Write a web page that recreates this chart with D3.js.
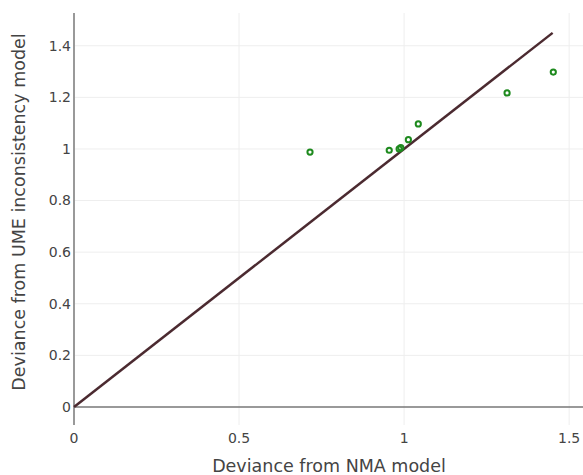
<!DOCTYPE html>
<html>
<head>
<meta charset="utf-8">
<script src="https://cdn.jsdelivr.net/npm/d3@7"></script>
<style>
  body { margin: 0; background: #fff; }
  svg { display: block; }
</style>
</head>
<body>
<script>
// deviance of each study: NMA model vs UME inconsistency model
var nmaDeviance = [0.715, 0.955, 0.985, 0.99, 1.013, 1.043, 1.312, 1.452];
var umeDeviance = [0.988, 0.995, 1.0, 1.005, 1.036, 1.097, 1.217, 1.298];
var lineOfEquality = [0, 1.45];
var xTicks = [0, 0.5, 1, 1.5];
var yTicks = [0, 0.2, 0.4, 0.6, 0.8, 1, 1.2, 1.4];

var width = 583, height = 475;
var margin = { left: 74, right: 0, top: 13, bottom: 50 };

var svg = d3.select('body').append('svg')
    .attr('width', width)
    .attr('height', height);

var x = d3.scaleLinear()
    .domain([0, 1.542])
    .range([margin.left, width - margin.right]);
var y = d3.scaleLinear()
    .domain([-0.07, 1.527])
    .range([height - margin.bottom, margin.top]);

var font = 'Verdana, "DejaVu Sans", sans-serif';

// grid
svg.append('g').selectAll('line')
    .data(xTicks.filter(function(d) { return d !== 0; }))
    .enter().append('line')
      .attr('x1', function(d) { return x(d); })
      .attr('x2', function(d) { return x(d); })
      .attr('y1', y.range()[1])
      .attr('y2', y.range()[0])
      .attr('stroke', '#eeeeee')
      .attr('stroke-width', 1);
svg.append('g').selectAll('line')
    .data(yTicks.filter(function(d) { return d !== 0; }))
    .enter().append('line')
      .attr('x1', x.range()[0])
      .attr('x2', x.range()[1])
      .attr('y1', function(d) { return y(d); })
      .attr('y2', function(d) { return y(d); })
      .attr('stroke', '#eeeeee')
      .attr('stroke-width', 1);

// zero lines
svg.append('line')
    .attr('x1', x.range()[0]).attr('x2', x.range()[1])
    .attr('y1', y(0)).attr('y2', y(0))
    .attr('stroke', '#777777').attr('stroke-width', 1.5);
svg.append('line')
    .attr('x1', x(0)).attr('x2', x(0))
    .attr('y1', y.range()[1]).attr('y2', y.range()[0])
    .attr('stroke', '#999999').attr('stroke-width', 2);

// tick labels
svg.append('g').selectAll('text')
    .data(xTicks)
    .enter().append('text')
      .attr('x', function(d) { return x(d); })
      .attr('y', y.range()[0] + 18)
      .attr('text-anchor', 'middle')
      .attr('font-family', font)
      .attr('font-size', 14)
      .attr('fill', '#444')
      .text(function(d) { return d; });
svg.append('g').selectAll('text')
    .data(yTicks)
    .enter().append('text')
      .attr('x', x(0) - 3)
      .attr('y', function(d) { return y(d); })
      .attr('dy', '0.35em')
      .attr('text-anchor', 'end')
      .attr('font-family', font)
      .attr('font-size', 14)
      .attr('fill', '#444')
      .text(function(d) { return d; });

// axis titles
svg.append('text')
    .attr('x', 329)
    .attr('y', 472)
    .attr('text-anchor', 'middle')
    .attr('font-family', font)
    .attr('font-size', 17.5)
    .attr('fill', '#444')
    .text('Deviance from NMA model');
svg.append('text')
    .attr('transform', 'translate(25,212) rotate(-90)')
    .attr('text-anchor', 'middle')
    .attr('font-family', font)
    .attr('font-size', 17.5)
    .attr('fill', '#444')
    .text('Deviance from UME inconsistency model');

// line of equality
svg.append('line')
    .attr('x1', x(lineOfEquality[0])).attr('y1', y(lineOfEquality[0]))
    .attr('x2', x(lineOfEquality[1])).attr('y2', y(lineOfEquality[1]))
    .attr('stroke', '#4b2a30')
    .attr('stroke-width', 2.5);

// points
svg.append('g').selectAll('circle')
    .data(nmaDeviance.map(function(d, i) { return { x: d, y: umeDeviance[i] }; }))
    .enter().append('circle')
      .attr('cx', function(d) { return x(d.x); })
      .attr('cy', function(d) { return y(d.y); })
      .attr('r', 2.6)
      .attr('fill', 'none')
      .attr('stroke', '#1e8a1e')
      .attr('stroke-width', 2);
</script>
</body>
</html>
